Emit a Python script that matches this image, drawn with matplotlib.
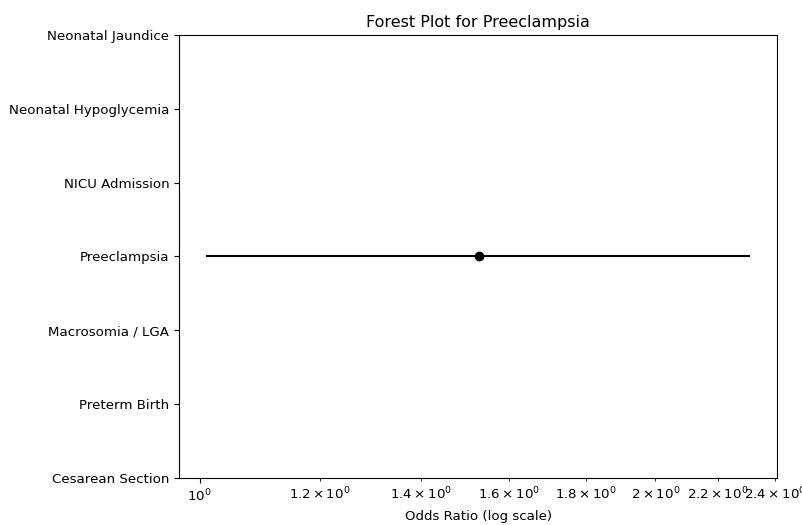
import matplotlib
matplotlib.use("Agg")
import matplotlib.pyplot as plt
import numpy as np

outcomes = ["Cesarean Section", "Preterm Birth", "Macrosomia / LGA", "Preeclampsia",
            "NICU Admission", "Neonatal Hypoglycemia", "Neonatal Jaundice"]
selected = "Preeclampsia"
odds_ratio = [1.53]
ci_lower = [1.01]
ci_upper = [2.31]

plt.rcParams['font.size'] = 9.6
fig, ax = plt.subplots(figsize=(8.03, 5.25), dpi=100)
ypos = [outcomes.index(selected)]
or_arr = np.array(odds_ratio)
xerr = [or_arr - np.array(ci_lower), np.array(ci_upper) - or_arr]
ax.errorbar(or_arr, ypos, xerr=xerr, fmt='o', color='black')
ax.set_xscale('log')
ax.set_yticks(range(len(outcomes)))
ax.set_yticklabels(outcomes)
ax.set_ylim(0, len(outcomes) - 1)
ax.set_xlabel("Odds Ratio (log scale)")
ax.set_title("Forest Plot for Preeclampsia", fontsize=11.5)
fig.subplots_adjust(left=0.223, right=0.968, top=0.933, bottom=0.09)
fig.savefig("out.png", dpi=100)
